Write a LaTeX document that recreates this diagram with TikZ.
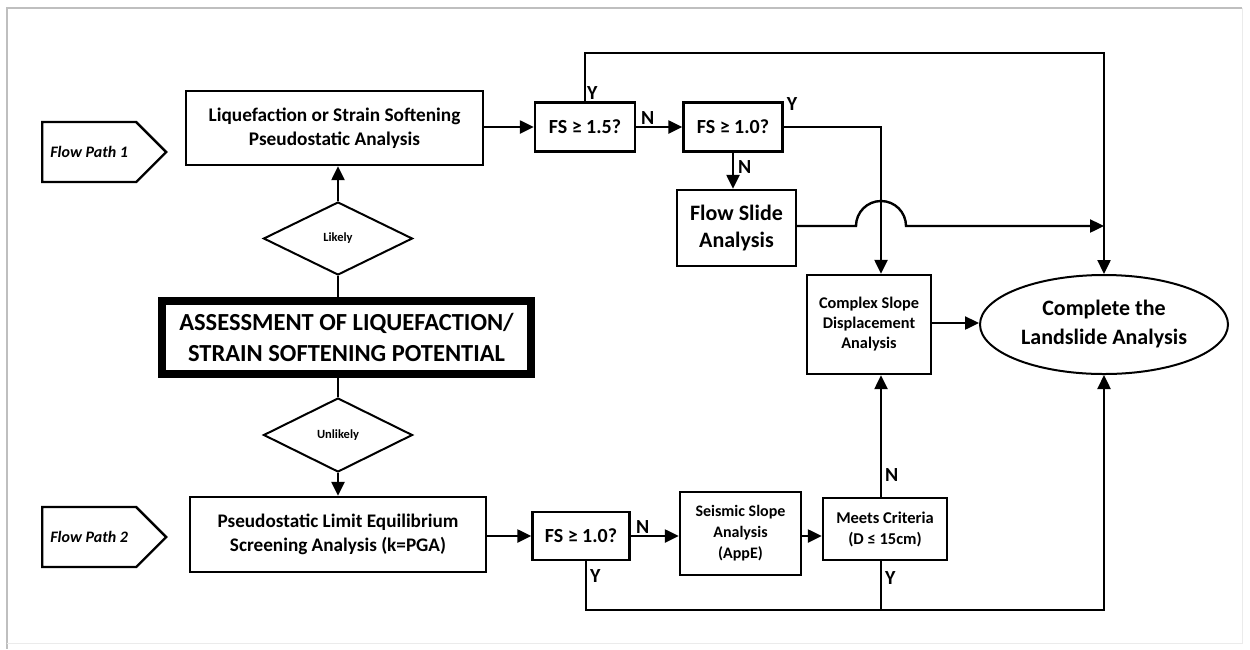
\documentclass[tikz,border=0pt]{standalone}
\usepackage{fontspec}
\setmainfont{Carlito}
\usetikzlibrary{arrows.meta,positioning,shapes.geometric,shapes.symbols,calc}

\begin{document}
\begin{tikzpicture}[x=1pt, y=-1pt, >={Triangle[length=14pt,width=13pt]},
 line width=2.4pt, font=\bfseries,
 box/.style={draw, align=center, inner sep=0pt},
 ask/.style={draw, diamond, aspect=2, inner sep=0pt, line width=2pt},
 tag/.style={draw, signal, signal to=east, signal pointer angle=90,
   minimum width=124pt, minimum height=60pt, inner sep=0pt, font=\bfseries\itshape\fontsize{16}{19}\selectfont},
 lbl/.style={font=\bfseries\fontsize{20}{22}\selectfont, inner sep=1pt}]
\useasboundingbox (0,0) rectangle (1250,649);
% frame
\draw[black!25, line width=1.5pt] (1242,8) -- (7,8) -- (7,649);
\draw[black!8, line width=1pt] (1242,8) -- (1242,643) -- (7,643);

% flow path 1
\node[tag, anchor=west] (fp1) at (41,152) {Flow Path 1};
\node[box, minimum width=297pt, minimum height=74pt, font=\bfseries\fontsize{19.3}{24}\selectfont] (liq) at (334.5,128) {Liquefaction or Strain Softening\\Pseudostatic Analysis};
\node[box, minimum width=100pt, minimum height=49pt, font=\bfseries\fontsize{20}{22}\selectfont] (fs15) at (585,127) {FS ≥ 1.5?};
\node[box, minimum width=99pt, minimum height=49pt, font=\bfseries\fontsize{20}{22}\selectfont] (fs10) at (733,127) {FS ≥ 1.0?};
\node[box, minimum width=119pt, minimum height=76pt, font=\bfseries\fontsize{22}{27}\selectfont] (slide) at (736.5,228) {Flow Slide\\Analysis};
\node[box, minimum width=124pt, minimum height=99pt, font=\bfseries\fontsize{16.3}{20}\selectfont] (cplx) at (869,324.5) {Complex Slope\\Displacement\\Analysis};
\node[draw, ellipse, minimum width=248pt, minimum height=99pt, inner sep=0pt, line width=2pt, align=center, font=\bfseries\fontsize{22}{29}\selectfont] (done) at (1104,324.5) {Complete the\\Landslide Analysis};

% assessment
\node[ask, minimum width=149pt, minimum height=73pt, font=\bfseries\fontsize{12.5}{14}\selectfont] (likely) at (338,238.5) {Likely};
\node[box, line width=8pt, minimum width=369pt, minimum height=73pt, font=\bfseries\fontsize{24.5}{31}\selectfont] (assess) at (346.5,337.5) {ASSESSMENT OF LIQUEFACTION/\\STRAIN SOFTENING POTENTIAL};
\node[ask, minimum width=149pt, minimum height=74pt, font=\bfseries\fontsize{12.5}{14}\selectfont] (unlikely) at (338,435) {Unlikely};

% flow path 2
\node[tag, anchor=west] (fp2) at (41,537) {Flow Path 2};
\node[box, minimum width=296pt, minimum height=75pt, font=\bfseries\fontsize{19.2}{24}\selectfont] (pse) at (338,534.5) {Pseudostatic Limit Equilibrium\\Screening Analysis (k=PGA)};
\node[box, minimum width=97pt, minimum height=48pt, font=\bfseries\fontsize{20}{22}\selectfont] (fs2) at (581,536) {FS ≥ 1.0?};
\node[box, minimum width=121pt, minimum height=83pt, font=\bfseries\fontsize{16}{21}\selectfont] (seis) at (740.5,533.5) {Seismic Slope\\Analysis\\(AppE)};
\node[box, minimum width=124pt, minimum height=62pt, font=\bfseries\fontsize{16.5}{21}\selectfont] (meets) at (885,529) {Meets Criteria\\(D ≤ 15cm)};

\coordinate (top) at (1104,53);
\coordinate (bot) at (1104,610);
\coordinate (join) at (1104,226);

% path 1 connectors
\draw[->] (likely.north) -- (likely.north |- liq.south);
\draw (assess.north -| likely.south) -- (likely.south);
\draw[->] (liq.east |- fs15.west) -- (fs15.west);
\draw[->] (fs15.east) -- node[lbl, above, pos=0.25] {N} (fs10.west);
\draw[->] (fs15.north) |- (top) -- (done.north);
\node[lbl, anchor=south west] at (fs15.north) {Y};
\draw[->] (fs10.east) -| (cplx.north -| 881,0);
\node[lbl, anchor=west] at ($(fs10.north east)+(1,3)$) {Y};
\draw[->] (fs10.south) -- node[lbl, right=3pt, pos=0.4] {N} (slide.north -| fs10.south);
\draw[->] (slide.east |- join) -- (856,226) arc[start angle=180, end angle=360, radius=25] -- (join);
\draw[->] (cplx.east |- 0,323) -- (done.west |- 0,323);

% path 2 connectors
\draw (assess.south -| unlikely.north) -- (unlikely.north);
\draw[->] (unlikely.south) -- (pse.north -| unlikely.south);
\draw[->] (pse.east |- fs2.west) -- (fs2.west);
\draw[->] (fs2.east) -- node[lbl, above, pos=0.25] {N} (seis.west |- fs2.east);
\draw[->] (seis.east |- 0,536) -- (meets.west |- 0,536);
\draw[->] (meets.north -| 881,0) -- node[lbl, right=2pt, pos=0.18] {N} (cplx.south -| 881,0);
\draw (meets.south -| 881,0) -- node[lbl, right=2pt, pos=0.35] {Y} (bot -| 881,0);
\draw[->] (fs2.south -| 586,0) |- (bot) -- (done.south);
\node[lbl, anchor=north west] at ($(fs2.south -| 586,0)+(2,6)$) {Y};
\end{tikzpicture}
\end{document}
